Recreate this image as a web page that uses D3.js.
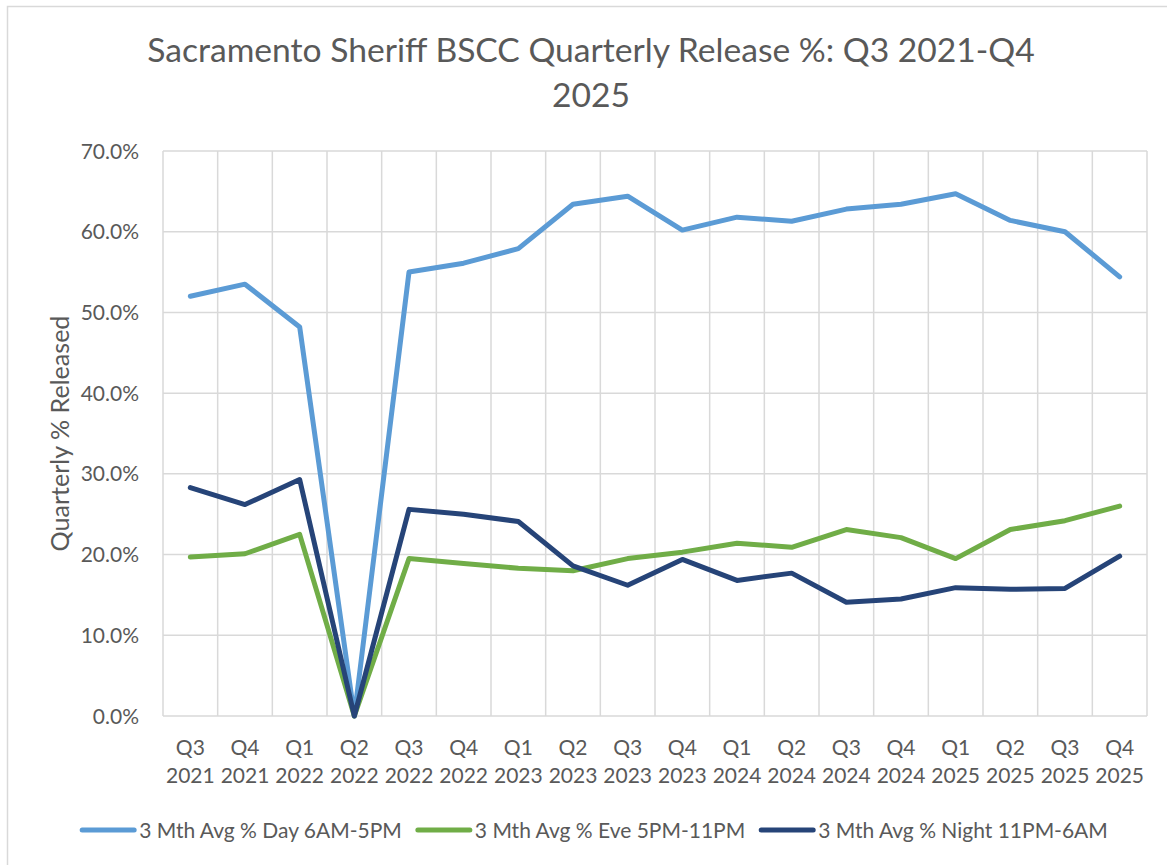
<!DOCTYPE html>
<html>
<head>
<meta charset="utf-8">
<script src="https://cdn.jsdelivr.net/npm/d3@7"></script>
<style>
  body { margin: 0; background: #fff; }
  svg { display: block; }
</style>
</head>
<body>
<svg id="chart"></svg>
<script>
// quarters on the x axis
var quarters = ["Q3", "Q4", "Q1", "Q2", "Q3", "Q4", "Q1", "Q2", "Q3", "Q4", "Q1", "Q2", "Q3", "Q4", "Q1", "Q2", "Q3", "Q4"]
var years = ["2021", "2021", "2022", "2022", "2022", "2022", "2023", "2023", "2023", "2023", "2024", "2024", "2024", "2024", "2025", "2025", "2025", "2025"]

// % released
var dayValues = [52.0, 53.5, 48.2, 0, 55.0, 56.1, 57.9, 63.4, 64.4, 60.2, 61.8, 61.3, 62.8, 63.4, 64.7, 61.4, 60.0, 54.4]
var eveValues = [19.7, 20.1, 22.5, 0, 19.5, 18.9, 18.3, 18.0, 19.5, 20.3, 21.4, 20.9, 23.1, 22.1, 19.5, 23.1, 24.2, 26.0]
var nightValues = [28.3, 26.2, 29.3, 0, 25.6, 25.0, 24.1, 18.6, 16.2, 19.4, 16.8, 17.7, 14.1, 14.5, 15.9, 15.7, 15.8, 19.8]

var seriesNames = ["3 Mth Avg % Day 6AM-5PM", "3 Mth Avg % Eve 5PM-11PM", "3 Mth Avg % Night 11PM-6AM"]
var seriesColors = ["#5B9BD5", "#70AD47", "#264478"]

var yTicks = [0, 10, 20, 30, 40, 50, 60, 70]
var titleLines = ["Sacramento Sheriff BSCC Quarterly Release %: Q3 2021-Q4", "2025"]

var dimensions = {
    width: 1167,
    height: 865,
    margin: { top: 151, bottom: 149, left: 163, right: 20 }
}
var font = "Lato, 'Open Sans', sans-serif"
var textColor = "#595959"
var gridColor = "#d9d9d9"

var categories = quarters.map((q, i) => q + " " + years[i])
var series = [dayValues, eveValues, nightValues].map((vals, i) => ({
    name: seriesNames[i],
    color: seriesColors[i],
    values: vals.map((v, j) => ({ cat: categories[j], v: v }))
}))

var svg = d3.select("#chart")
            .attr("width", dimensions.width)
            .attr("height", dimensions.height)

// outer chart border
svg.append("rect")
   .attr("x", 7.5)
   .attr("y", 6.5)
   .attr("width", dimensions.width + 50)
   .attr("height", dimensions.height + 50)
   .attr("fill", "#fff")
   .attr("stroke", gridColor)
   .attr("stroke-width", 1.5)

var xScale = d3.scaleBand()
               .domain(categories)
               .range([dimensions.margin.left, dimensions.width - dimensions.margin.right])
               .paddingInner(0)
               .paddingOuter(0)

var yScale = d3.scaleLinear()
               .domain([0, 70])
               .range([dimensions.height - dimensions.margin.bottom, dimensions.margin.top])

var xCenter = d => xScale(d) + xScale.bandwidth() / 2

// gridlines
var grid = svg.append("g")
grid.selectAll(".hgrid")
    .data(yTicks)
    .enter()
    .append("line")
    .attr("x1", xScale.range()[0])
    .attr("x2", xScale.range()[1])
    .attr("y1", d => yScale(d))
    .attr("y2", d => yScale(d))
    .attr("stroke", gridColor)
    .attr("stroke-width", 1.5)

var bounds = categories.map(c => xScale(c)).concat([xScale.range()[1]])
grid.selectAll(".vgrid")
    .data(bounds)
    .enter()
    .append("line")
    .attr("x1", d => d)
    .attr("x2", d => d)
    .attr("y1", yScale(70))
    .attr("y2", yScale(0))
    .attr("stroke", gridColor)
    .attr("stroke-width", 1.5)

// y tick labels
svg.append("g")
   .selectAll("text")
   .data(yTicks)
   .enter()
   .append("text")
   .text(d => d3.format(".1f")(d) + "%")
   .attr("x", dimensions.margin.left - 24)
   .attr("y", d => yScale(d))
   .attr("dy", "0.36em")
   .attr("text-anchor", "end")
   .attr("fill", textColor)
   .style("font-family", font)
   .style("font-size", "21px")

// x tick labels, two lines
var xLabels = svg.append("g")
                 .selectAll("text")
                 .data(categories)
                 .enter()
                 .append("text")
                 .attr("text-anchor", "middle")
                 .attr("fill", textColor)
                 .style("font-family", font)
                 .style("font-size", "21px")
xLabels.append("tspan")
       .attr("x", d => xCenter(d))
       .attr("y", yScale(0) + 39)
       .text((d, i) => quarters[i])
xLabels.append("tspan")
       .attr("x", d => xCenter(d))
       .attr("y", yScale(0) + 67)
       .text((d, i) => years[i])

// y axis title, sized to the original length
var yTitle = svg.append("text")
   .text("Quarterly % Released")
   .attr("transform", "rotate(-90)")
   .attr("x", -(yScale(0) + yScale(70)) / 2)
   .attr("y", 69)
   .attr("text-anchor", "middle")
   .attr("fill", textColor)
   .style("font-family", font)
   .style("font-size", "21px")
var yTitleW = yTitle.node().getComputedTextLength()
yTitle.style("font-size", (21 * 236 / yTitleW) + "px")

// lines
var line = d3.line()
             .x(d => xCenter(d.cat))
             .y(d => yScale(d.v))

svg.append("g")
   .selectAll(".line")
   .data(series)
   .enter()
   .append("path")
   .attr("class", "line")
   .attr("d", d => line(d.values))
   .attr("stroke", d => d.color)
   .attr("stroke-width", 5)
   .attr("stroke-linejoin", "round")
   .attr("stroke-linecap", "round")
   .attr("fill", "none")

// title, sized to match the original width
var title = svg.append("text")
               .attr("text-anchor", "middle")
               .attr("fill", textColor)
               .style("font-family", font)
               .style("font-size", "28px")
title.selectAll("tspan")
     .data(titleLines)
     .enter()
     .append("tspan")
     .attr("x", 591)
     .attr("y", (d, i) => 62 + i * 45)
     .text(d => d)
var firstW = title.select("tspan").node().getComputedTextLength()
title.style("font-size", (28 * 888 / firstW) + "px")

// legend
var legend = svg.append("g")
var swatchW = 52
var items = legend.selectAll("g")
                  .data(series)
                  .enter()
                  .append("g")
items.append("line")
     .attr("x1", 0)
     .attr("x2", swatchW)
     .attr("y1", 0)
     .attr("y2", 0)
     .attr("stroke", d => d.color)
     .attr("stroke-width", 5)
     .attr("stroke-linecap", "round")
items.append("text")
     .text(d => d.name)
     .attr("x", swatchW + 5)
     .attr("dy", "0.36em")
     .attr("fill", textColor)
     .style("font-family", font)
     .style("font-size", "21px")

var textW = items.select("text").nodes().map(n => n.getComputedTextLength())
var gap = 16
var total = d3.sum(textW) + series.length * (swatchW + 5) + gap * (series.length - 1)
var startX = 595 - total / 2
var pos = []
textW.forEach((w, i) => { pos.push(startX); startX += swatchW + 5 + w + gap })
items.attr("transform", (d, i) => `translate(${pos[i]},${830})`)
</script>
</body>
</html>
